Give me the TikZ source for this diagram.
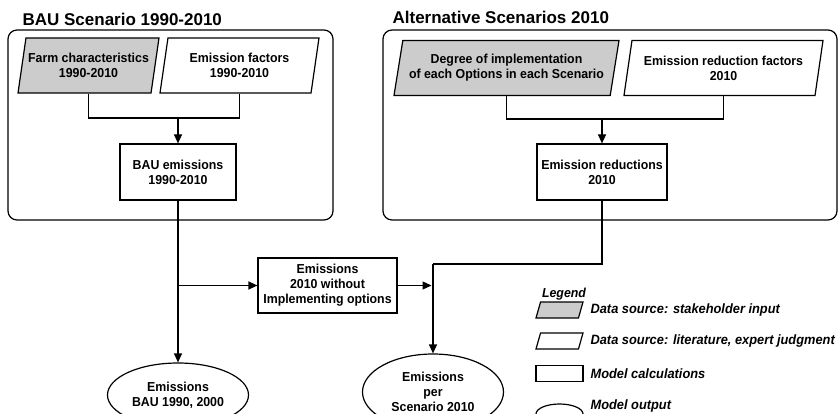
\documentclass[tikz,border=0pt]{standalone}
\usepackage{fontspec}
\setmainfont{Liberation Sans}[FakeStretch=0.95]
\newfontfamily\headfont{Liberation Sans}
\usepackage{tikz}
\usetikzlibrary{arrows.meta,shapes.geometric}
\newcommand{\clrin}{gray!40}

\begin{document}
\begin{tikzpicture}[x=1pt, y=-1pt, line width=1.2pt,
    txt/.style={font=\bfseries\fontsize{13}{15}\selectfont, align=center, inner sep=0pt},
    para/.style={draw, trapezium, trapezium left angle=72, trapezium right angle=108, trapezium stretches body=true},
    datain/.style={txt, para, minimum height=55},
    calcbox/.style={txt, draw, rectangle, minimum height=56},
    outcome/.style={txt, draw, ellipse, minimum width=141},
    panel/.style={draw, rounded corners=9},
    flow/.style={-{Triangle[length=9,width=8]}},
    keytxt/.style={anchor=west, inner sep=0pt, font=\bfseries\itshape\fontsize{13.5}{15}\selectfont},
    keyshape/.style={draw, inner xsep=15pt, inner ysep=7pt, minimum width=47, minimum height=16}]
    \useasboundingbox (0,0) rectangle (838,414);
    \clip (0,0) rectangle (838,414);

    \draw[panel] (8,30) rectangle (333,220);
    \draw[panel] (383,30) rectangle (837,220);
    \node[anchor=base west, inner sep=0pt, font=\headfont\bfseries\fontsize{17}{20}\selectfont] (bautitle) at (22,26) {BAU Scenario 1990-2010};
    \node[anchor=base west, inner sep=0pt, font=\headfont\bfseries\fontsize{17}{20}\selectfont] (alttitle) at (392,24) {Alternative Scenarios 2010};

    \node[datain, fill=\clrin, minimum width=141] (farm) at (88.5,65.5) {Farm characteristics\\1990-2010};
    \node[datain, minimum width=159] (ef) at (239.5,65.5) {Emission factors\\1990-2010};
    \node[calcbox, minimum width=116] (bau) at (178,172) {BAU emissions\\1990-2010};
    \coordinate (bauhub) at (178,118);
    \draw (farm.south) |- (bauhub) -| (ef.south);
    \draw[flow] (bauhub) -- (bau.north);

    \node[datain, fill=\clrin, minimum width=225] (degree) at (506.5,68) {Degree of implementation\\of each Options in each Scenario};
    \node[datain, minimum width=199] (erf) at (723.5,68) {Emission reduction factors\\2010};
    \node[calcbox, minimum width=130] (red) at (602,172) {Emission reductions\\2010};
    \coordinate (redhub) at (602,119);
    \draw (degree.south) |- (redhub) -| (erf.south);
    \draw[flow] (redhub) -- (red.north);

    \node[calcbox, minimum width=139, minimum height=55] (noimpl) at (327.5,285.5) {Emissions\\2010 without\\Implementing options};
    \node[outcome, minimum height=64] (bauout) at (178,395) {Emissions\\BAU 1990, 2000};
    \node[outcome, minimum height=76] (scenout) at (433,392) {Emissions\\per\\Scenario 2010};

    \coordinate (split) at (178,285.5);
    \coordinate (merge) at (433,264);
    \draw[flow] (bau.south) -- (bauout.north);
    \draw[flow] (split) -- (noimpl.west);
    \draw (red.south) |- (merge);
    \draw[flow] (merge) -- (scenout.north);
    \draw[flow, shorten >=1.5pt] (noimpl.east) -- (merge |- noimpl.east);

    \node[anchor=base, inner sep=0pt, font=\bfseries\itshape\fontsize{13}{15}\selectfont] (legend) at (564,297) {Legend};
    \node[para, keyshape, fill=\clrin] (key1) at (559.5,310) {};
    \node[para, keyshape] (key2) at (559.5,341) {};
    \node[keyshape, rectangle, inner sep=0pt] (key3) at (559.5,373.5) {};
    \node[keyshape, ellipse, inner sep=0pt, minimum height=20] (key4) at (559.5,414) {};
    \foreach \y/\lbl [count=\i] in {310/Data source: stakeholder input, 341/{Data source: literature, expert judgment}, 373.5/Model calculations, 406/Model output} {
        \node[keytxt] (keylbl\i) at (590,\y) {\lbl};
    }
\end{tikzpicture}
\end{document}
